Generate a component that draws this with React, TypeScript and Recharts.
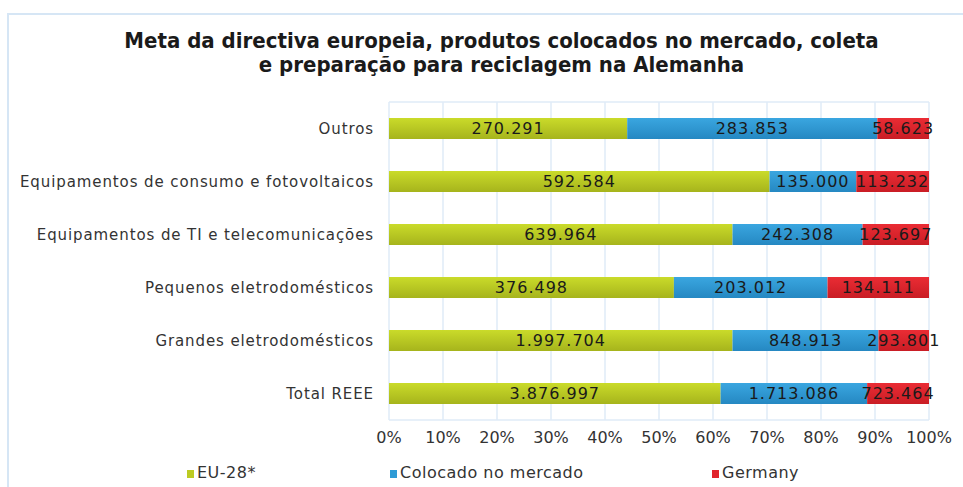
import React from "react";
import {
  Bar,
  BarChart,
  CartesianGrid,
  LabelList,
  Legend,
  XAxis,
  YAxis,
} from "recharts";

const categories = [
  "Outros",
  "Equipamentos de consumo e fotovoltaicos",
  "Equipamentos de TI e telecomunicações",
  "Pequenos eletrodomésticos",
  "Grandes eletrodomésticos",
  "Total REEE",
];
const euValues = [270291, 592584, 639964, 376498, 1997704, 3876997];
const mercadoValues = [283853, 135000, 242308, 203012, 848913, 1713086];
const germanyValues = [58623, 113232, 123697, 134111, 293801, 723464];
const pctTicks = [0, 0.1, 0.2, 0.3, 0.4, 0.5, 0.6, 0.7, 0.8, 0.9, 1];

const series = [
  { key: "eu", name: "EU-28*", color: "#bccb22", top: "#cadb2a", bottom: "#a6b41c" },
  { key: "mercado", name: "Colocado no mercado", color: "#2e9bd6", top: "#3aa6e0", bottom: "#2588c2" },
  { key: "germany", name: "Germany", color: "#e1242c", top: "#ea2c34", bottom: "#c91d25" },
];

const data = categories.map((name, i) => ({
  name,
  eu: euValues[i],
  mercado: mercadoValues[i],
  germany: germanyValues[i],
}));

const fmt = (v: number) => v.toLocaleString("de-DE");
const font = "'DejaVu Sans', Verdana, sans-serif";

function LegendBox() {
  const lefts = [187, 390, 712];
  return (
    <div style={{ position: "relative", height: 20, fontFamily: font, fontSize: 16, letterSpacing: 0.5, color: "#333" }}>
      {series.map((s, i) => (
        <div key={s.key} style={{ position: "absolute", left: lefts[i], top: 0, whiteSpace: "nowrap" }}>
          <span style={{ display: "inline-block", width: 7, height: 8, background: s.color, marginRight: 3 }} />
          {s.name}
        </div>
      ))}
    </div>
  );
}

export default function App() {
  return (
    <div style={{ position: "absolute", left: 0, top: 0, width: 963, height: 487, background: "#fff", overflow: "hidden" }}>
      <div
        style={{
          position: "absolute",
          left: 7,
          top: 13,
          width: 970,
          height: 500,
          border: "2px solid #d6e6f5",
        }}
      />
      <div
        style={{
          position: "absolute",
          top: 29,
          left: 0,
          width: 1003,
          textAlign: "center",
          fontFamily: "'DejaVu Sans Condensed', 'DejaVu Sans', sans-serif",
          fontWeight: "bold",
          fontSize: 22,
          lineHeight: "24px",
          color: "#1a1a1a",
        }}
      >
        Meta da directiva europeia, produtos colocados no mercado, coleta
        <br />e preparação para reciclagem na Alemanha
      </div>
      <BarChart
        width={963}
        height={487}
        data={data}
        layout="vertical"
        stackOffset="expand"
        barCategoryGap={16}
        margin={{ top: 102, right: 34, bottom: 37, left: 0 }}
        style={{ position: "absolute", left: 0, top: 0 }}
      >
        <defs>
          {series.map((s) => (
            <linearGradient key={s.key} id={`g-${s.key}`} x1="0" y1="0" x2="0" y2="1">
              <stop offset="0%" stopColor={s.top} />
              <stop offset="100%" stopColor={s.bottom} />
            </linearGradient>
          ))}
        </defs>
        <CartesianGrid stroke="#dfebf7" strokeWidth={1.5} />
        <XAxis
          type="number"
          domain={[0, 1]}
          ticks={pctTicks}
          tickFormatter={(v: number) => `${Math.round(v * 100)}%`}
          axisLine={false}
          tickLine={false}
          tickSize={0}
          tickMargin={12}
          height={30}
          interval={0}
          tick={{ fill: "#333", fontSize: 16, fontFamily: font }}
        />
        <YAxis
          type="category"
          dataKey="name"
          width={389}
          axisLine={false}
          tickLine={false}
          tickSize={0}
          tickMargin={15}
          interval={0}
          tick={{ fill: "#333", fontSize: 15, fontFamily: font, letterSpacing: 0.9 }}
        />
        <Legend
          verticalAlign="middle"
          layout="horizontal"
          wrapperStyle={{ top: 463, left: 0, width: 963 }}
          content={() => <LegendBox />}
        />
        {series.map((s) => (
          <Bar key={s.key} dataKey={s.key} name={s.name} stackId="a" fill={`url(#g-${s.key})`} isAnimationActive={false}>
            <LabelList
              dataKey={s.key}
              position="center"
              formatter={(v: number) => fmt(v)}
              style={{ fill: "#1a1a1a", fontSize: 16, fontFamily: font, letterSpacing: 1 }}
            />
          </Bar>
        ))}
      </BarChart>
    </div>
  );
}
